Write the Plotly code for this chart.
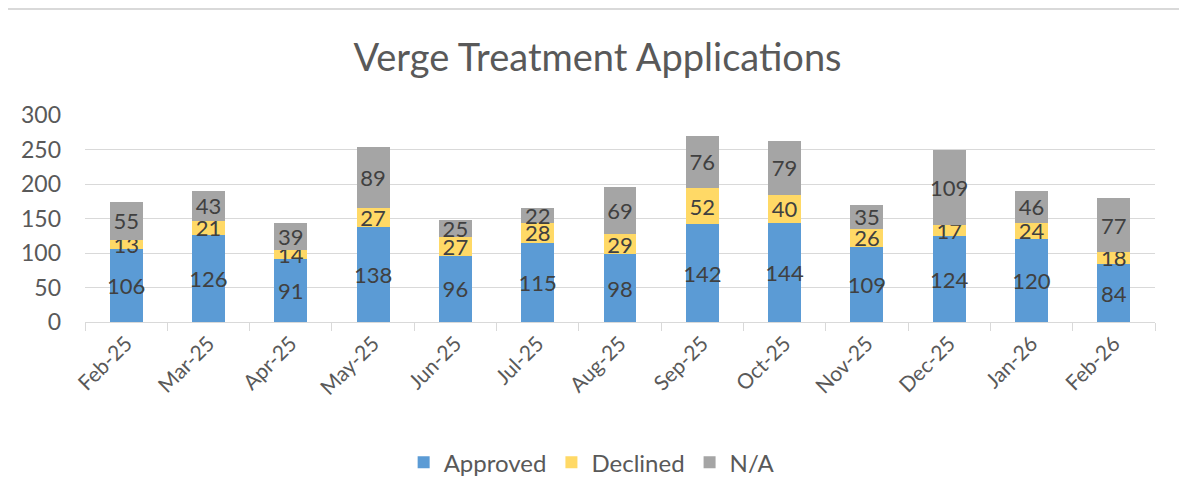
import plotly.graph_objects as go

months = ["Feb-25", "Mar-25", "Apr-25", "May-25", "Jun-25", "Jul-25", "Aug-25",
          "Sep-25", "Oct-25", "Nov-25", "Dec-25", "Jan-26", "Feb-26"]
approved = [106, 126, 91, 138, 96, 115, 98, 142, 144, 109, 124, 120, 84]
declined = [13, 21, 14, 27, 27, 28, 29, 52, 40, 26, 17, 24, 18]
na = [55, 43, 39, 89, 25, 22, 69, 76, 79, 35, 109, 46, 77]
y_ticks = [0, 50, 100, 150, 200, 250, 300]

FONT = "Lato, 'Open Sans', sans-serif"
series = [("Approved", approved, "#5B9BD5"),
          ("Declined", declined, "#FFD966"),
          ("N/A", na, "#A5A5A5")]

fig = go.Figure()
for name, vals, col in series:
    fig.add_trace(go.Bar(
        x=months, y=vals, name=name, marker=dict(color=col, line=dict(width=0)),
        text=[str(v) for v in vals], textposition="inside", insidetextanchor="middle",
        textangle=0, constraintext="none", cliponaxis=False,
        textfont=dict(family=FONT, size=22, color="#404040"),
    ))

# page body has an 8px default margin, so the figure is offset by 8px
fig.update_layout(
    barmode="stack", bargap=0.6,
    width=1179, height=494,
    paper_bgcolor="white", plot_bgcolor="white",
    margin=dict(l=77, r=32, t=107, b=180),
    title=dict(text="Verge Treatment Applications", x=0.5, xanchor="center",
               y=0.9, yanchor="middle",
               font=dict(family=FONT, size=38, color="#595959")),
    font=dict(family=FONT, color="#595959"),
    showlegend=True,
    legend=dict(orientation="h", x=0.4735, xanchor="center", y=-0.68, yanchor="middle",
                font=dict(family=FONT, size=24, color="#595959"), traceorder="normal"),
    xaxis=dict(tickangle=-45, tickfont=dict(family=FONT, size=21, color="#595959"),
               showline=True, linecolor="#D9D9D9", linewidth=1,
               ticks="outside", tickson="boundaries", ticklen=8, tickcolor="#D9D9D9",
               showgrid=False),
    yaxis=dict(range=[0, 300], tickvals=y_ticks, tickfont=dict(family=FONT, size=23, color="#595959"),
               showgrid=True, gridcolor="#D9D9D9", gridwidth=1, zeroline=False,
               showline=False, ticks="", ticklabelstandoff=23),
)
fig.add_shape(type="line", xref="paper", yref="paper", x0=-0.08, x1=1.04,
              y0=1.512, y1=1.512, line=dict(color="#D9D9D9", width=2))
fig.write_html("out.html")
